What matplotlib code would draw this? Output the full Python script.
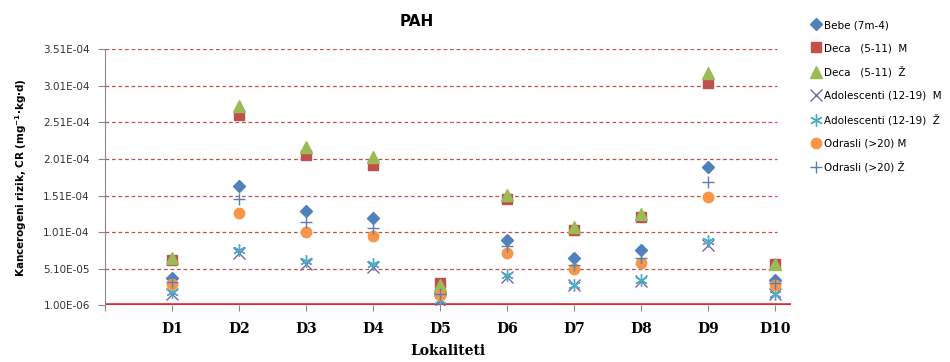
import matplotlib.pyplot as plt
import numpy as np
import matplotlib.ticker as ticker

# Lokaliteti
locations = ['D1', 'D2', 'D3', 'D4', 'D5', 'D6', 'D7', 'D8', 'D9', 'D10']

# Kancerogeni rizik (CR) po grupama
bebe = [3.9e-5, 1.64e-4, 1.30e-4, 1.21e-4, 1.8e-5, 9.0e-5, 6.5e-5, 7.6e-5, 1.90e-4, 3.6e-5]
deca_m = [6.3e-5, 2.61e-4, 2.07e-4, 1.93e-4, 3.1e-5, 1.46e-4, 1.04e-4, 1.22e-4, 3.05e-4, 5.7e-5]
deca_z = [6.5e-5, 2.74e-4, 2.17e-4, 2.04e-4, 2.9e-5, 1.52e-4, 1.08e-4, 1.26e-4, 3.18e-4, 5.8e-5]
adol_m = [1.7e-5, 7.2e-5, 5.8e-5, 5.3e-5, 7.0e-6, 4.0e-5, 2.9e-5, 3.4e-5, 8.3e-5, 1.6e-5]
adol_z = [1.9e-5, 7.6e-5, 6.1e-5, 5.8e-5, 8.0e-6, 4.2e-5, 2.9e-5, 3.6e-5, 8.9e-5, 1.7e-5]
odr_m = [3.0e-5, 1.27e-4, 1.01e-4, 9.6e-5, 1.5e-5, 7.3e-5, 5.05e-5, 5.9e-5, 1.49e-4, 2.9e-5]
odr_z = [3.3e-5, 1.46e-4, 1.15e-4, 1.07e-4, 1.7e-5, 8.2e-5, 5.6e-5, 6.6e-5, 1.70e-4, 3.2e-5]

y_ticks = [1.00e-6, 5.10e-5, 1.01e-4, 1.51e-4, 2.01e-4, 2.51e-4, 3.01e-4, 3.51e-4]
y_labels = ['1.00E-06', '5.10E-05', '1.01E-04', '1.51E-04', '2.01E-04', '2.51E-04', '3.01E-04', '3.51E-04']

series = [
    (bebe, 'Bebe (7m-4)', dict(marker='D', color='#4F81BD', ms=6)),
    (deca_m, 'Deca   (5-11)  M', dict(marker='s', color='#C0504D', ms=7)),
    (deca_z, 'Deca   (5-11)  Ž', dict(marker='^', color='#9BBB59', ms=8)),
    (adol_m, 'Adolescenti (12-19)  M', dict(marker='x', color='#8064A2', ms=8, mew=1.0)),
    (adol_z, 'Adolescenti (12-19)  Ž', dict(marker=(6, 2, 0), color='#4BACC6', ms=9, mew=1.0)),
    (odr_m, 'Odrasli (>20) M', dict(marker='o', color='#F79646', ms=7.5)),
    (odr_z, 'Odrasli (>20) Ž', dict(marker='+', color='#5B7FB5', ms=9, mew=1.0)),
]

fig = plt.figure(figsize=(9.5, 3.62), dpi=100)
ax = fig.add_axes([0.1105, 0.1566, 0.7221, 0.7072])

x = np.arange(1, len(locations) + 1)

for yt in y_ticks[1:]:
    ax.axhline(yt, xmin=0, xmax=0.98, color='#C0504D', linestyle=(0, (3, 2.2)), linewidth=0.9, zorder=1)
ax.axhline(y_ticks[0], color='#E3262B', linewidth=2.6, zorder=2)

for vals, label, style in series:
    ax.plot(x, vals, linestyle='none', label=label, zorder=3, **style)

ax.set_xlim(0, 10.24)
ax.set_ylim(y_ticks[0], y_ticks[-1])
ax.set_yticks(y_ticks)
ax.set_yticklabels(y_labels, fontsize=7.5, color='#333333', family='DejaVu Sans')
ax.set_xticks(np.arange(0, 11))
ax.set_xticklabels([''] + locations, fontsize=10, fontweight='bold', family='DejaVu Serif')
ax.xaxis.set_minor_locator(ticker.NullLocator())

for side in ['top', 'right', 'bottom']:
    ax.spines[side].set_visible(False)
ax.spines['left'].set_color('#888888')
ax.spines['left'].set_linewidth(0.8)
ax.tick_params(axis='y', length=5, color='#888888', width=0.8, pad=6)
ax.tick_params(axis='x', length=4, color='#888888', width=0.8, pad=8)

ax.set_title('PAH', fontsize=11, fontweight='bold', pad=17, x=0.455)
ax.set_xlabel('Lokaliteti', fontsize=10, fontweight='bold', family='DejaVu Serif', labelpad=6)
ax.set_ylabel(r'Kancerogeni rizik, CR (mg$^{\mathbf{-1}}$·kg·d)', fontsize=7.5, fontweight='bold', labelpad=10)

ax.legend(loc='upper left', bbox_to_anchor=(1.03, 1.114), frameon=False, fontsize=7.5,
          handlelength=0.8, handletextpad=0.4, labelspacing=1.25, borderaxespad=0, borderpad=0)

fig.savefig('out.png', dpi=100)
